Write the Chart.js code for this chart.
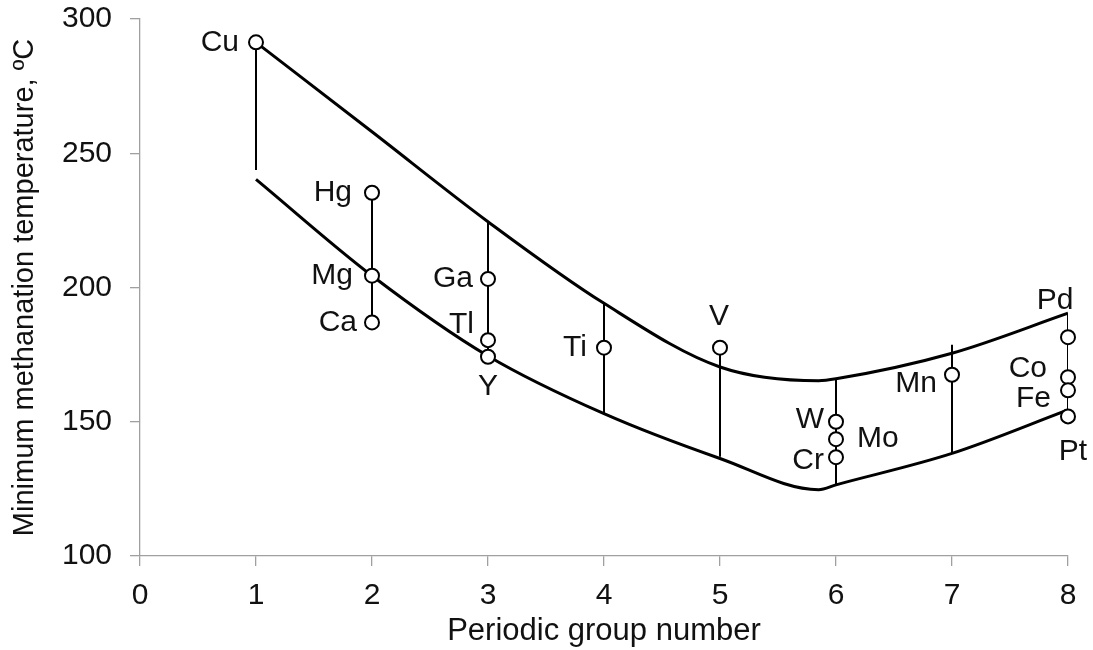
<!DOCTYPE html>
<html>
<head>
<meta charset="utf-8">
<script src="https://cdn.jsdelivr.net/npm/chart.js@4.4.1/dist/chart.umd.min.js"></script>
<style>
    html, body { margin: 0; padding: 0; background: #fff; }
    canvas { display: block; }
</style>
</head>
<body>
<canvas id="chart" width="1093" height="650"></canvas>
<script>
    // Metals: periodic group and minimum methanation temperature (ºC)
    const metals = ['Cu', 'Hg', 'Mg', 'Ca', 'Ga', 'Tl', 'Y', 'Ti', 'V', 'W', 'Mo', 'Cr', 'Mn', 'Pd', 'Co', 'Fe', 'Pt'];
    const groups = [1, 2, 2, 2, 3, 3, 3, 4, 5, 6, 6, 6, 7, 8, 8, 8, 8];
    const temps = [291.3, 235.3, 204.4, 187, 203.2, 180.4, 174.2, 177.6, 177.6, 150, 143.5, 136.8, 167.5, 181.5, 166.6, 161.7, 152];

    // Upper and lower envelope curves
    const upperX = [1, 2, 3, 4, 5, 5.85, 6, 7, 8];
    const upperY = [291.3, 258, 224.5, 194.1, 170.4, 165.3, 166, 175.5, 190.4];
    const lowerX = [1, 2, 3, 4, 5, 5.85, 6, 7, 8];
    const lowerY = [240.3, 204.4, 174.5, 153, 136.3, 124.7, 126.5, 138.2, 154.4];

    // Vertical range bars for each group
    const barX = [1, 2, 3, 4, 5, 6, 7, 8];
    const barTop = [291.3, 235.3, 224.5, 194.1, 177.6, 166, 178.7, 190.4];
    const barBottom = [243.8, 187, 174.2, 152.8, 137, 126.5, 138.2, 152];

    // Axis ticks
    const xTicks = [0, 1, 2, 3, 4, 5, 6, 7, 8];
    const yTicks = [100, 150, 200, 250, 300];

    // Where each metal's label sits relative to its circle
    const labelPlacement = {
        Cu: ['right', -17, 0], Hg: ['right', -20, 0], Mg: ['right', -19, 0], Ca: ['right', -15, 0],
        Ga: ['right', -15, 0], Tl: ['right', -14, -15], Y: ['center', 0, 30], Ti: ['right', -17, 0],
        V: ['center', -1, -31], W: ['right', -12, -2], Mo: ['left', 21, 0], Cr: ['right', -12, 4],
        Mn: ['right', -15, 9], Pd: ['center', -13, -36], Co: ['right', -21, -8], Fe: ['right', -17, 8],
        Pt: ['center', 5, 35]
    };

    const FONT = "'Liberation Sans', Arial, sans-serif";
    const AXIS_COLOR = '#a0a0a0';
    const TEXT_COLOR = '#111';

    const toPoints = (xs, ys) => xs.map((x, i) => ({ x, y: ys[i] }));

    // Bars as one dataset, broken up by null gaps
    const barPoints = [];
    barX.forEach((x, i) => {
        barPoints.push({ x, y: barTop[i] }, { x, y: barBottom[i] }, { x, y: null });
    });

    const metalLabels = {
        id: 'metalLabels',
        afterDatasetsDraw(chart) {
            const { ctx } = chart;
            const meta = chart.getDatasetMeta(0);
            ctx.save();
            ctx.font = `30px ${FONT}`;
            ctx.fillStyle = TEXT_COLOR;
            ctx.textBaseline = 'middle';
            meta.data.forEach((pt, i) => {
                const [align, dx, dy] = labelPlacement[metals[i]];
                ctx.textAlign = align;
                ctx.fillText(metals[i], pt.x + dx, pt.y + dy);
            });
            ctx.restore();
        }
    };

    new Chart(document.getElementById('chart'), {
        type: 'scatter',
        data: {
            datasets: [
                {
                    data: toPoints(groups, temps),
                    showLine: false,
                    pointRadius: 7,
                    pointBorderWidth: 2,
                    pointBackgroundColor: '#fff',
                    pointBorderColor: '#000',
                    clip: false
                },
                {
                    data: barPoints,
                    showLine: true,
                    spanGaps: false,
                    borderColor: '#000',
                    borderWidth: 2,
                    pointRadius: 0
                },
                {
                    data: toPoints(upperX, upperY),
                    showLine: true,
                    cubicInterpolationMode: 'monotone',
                    borderColor: '#000',
                    borderWidth: 3,
                    pointRadius: 0
                },
                {
                    data: toPoints(lowerX, lowerY),
                    showLine: true,
                    cubicInterpolationMode: 'monotone',
                    borderColor: '#000',
                    borderWidth: 3,
                    pointRadius: 0
                }
            ]
        },
        options: {
            responsive: false,
            animation: false,
            events: [],
            layout: { padding: { top: 19, right: 25, left: 0, bottom: 0 } },
            plugins: {
                legend: { display: false },
                tooltip: { enabled: false }
            },
            scales: {
                x: {
                    type: 'linear',
                    min: xTicks[0],
                    max: xTicks[xTicks.length - 1],
                    afterBuildTicks: scale => { scale.ticks = xTicks.map(value => ({ value })); },
                    afterFit: scale => {
                        scale.height = 94;
                        scale.paddingLeft = 0;
                        scale.paddingRight = 0;
                    },
                    border: { display: true, color: AXIS_COLOR, width: 1.3 },
                    grid: { drawOnChartArea: false, drawTicks: true, tickLength: 10, color: AXIS_COLOR, lineWidth: 1.3 },
                    ticks: { color: TEXT_COLOR, font: { family: FONT, size: 30 }, padding: 12, maxRotation: 0 },
                    title: {
                        display: true,
                        text: 'Periodic group number',
                        color: TEXT_COLOR,
                        font: { family: FONT, size: 31 },
                        padding: { top: 0, bottom: 0 }
                    }
                },
                y: {
                    min: yTicks[0],
                    max: yTicks[yTicks.length - 1],
                    afterBuildTicks: scale => { scale.ticks = yTicks.map(value => ({ value })); },
                    afterFit: scale => {
                        scale.width = 140;
                        // let the layout padding alone decide the top edge
                        scale.paddingTop = 0;
                        scale.paddingBottom = 0;
                    },
                    border: { display: true, color: AXIS_COLOR, width: 1.3 },
                    grid: { drawOnChartArea: false, drawTicks: true, tickLength: 10, color: AXIS_COLOR, lineWidth: 1.3 },
                    ticks: { color: TEXT_COLOR, font: { family: FONT, size: 30 }, padding: 18 },
                    title: {
                        display: true,
                        text: 'Minimum methanation temperature, ºC',
                        color: TEXT_COLOR,
                        font: { family: FONT, size: 29 },
                        padding: { top: 8, bottom: 0 }
                    }
                }
            }
        },
        plugins: [metalLabels]
    });
</script>
</body>
</html>
